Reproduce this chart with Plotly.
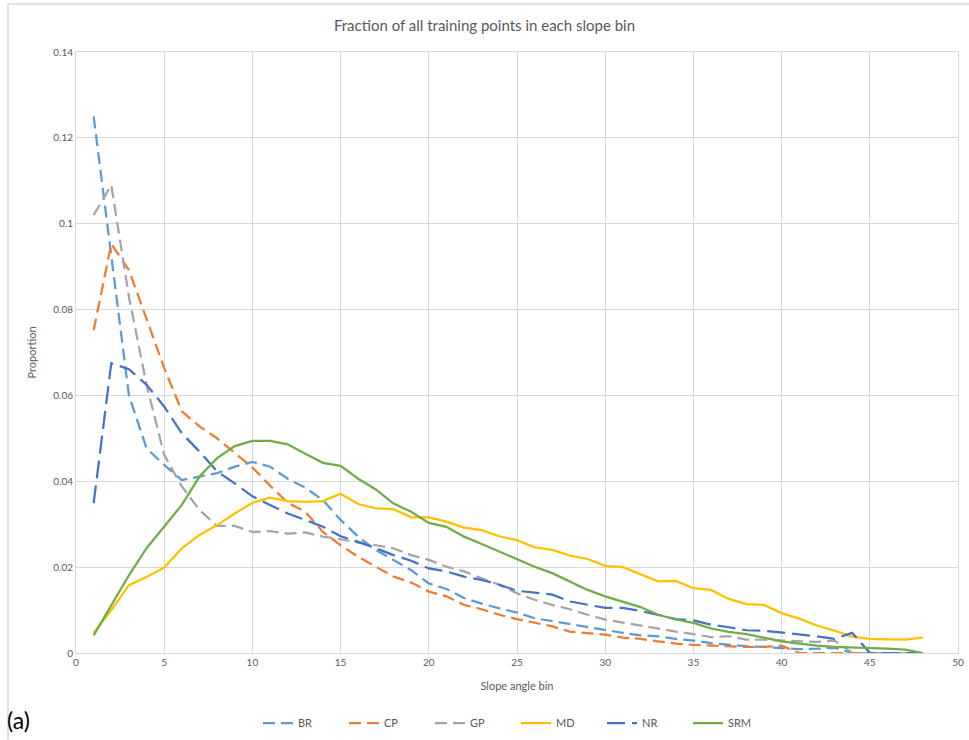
import plotly.graph_objects as go

# Slope angle bins (degrees)
slope_bin = list(range(1, 49))

# Proportion of training points per slope bin, per land-cover class
BR = [0.125, 0.093, 0.060, 0.0477, 0.0438, 0.0403, 0.0411, 0.0419, 0.0434, 0.0445,
      0.0434, 0.0406, 0.0385, 0.0356, 0.031, 0.0271, 0.024, 0.0217, 0.0193, 0.0162,
      0.0149, 0.0128, 0.0115, 0.0104, 0.0094, 0.0081, 0.0074, 0.0068, 0.006, 0.0054,
      0.0047, 0.0041, 0.0039, 0.0033, 0.0029, 0.0023, 0.0019, 0.0016, 0.0014, 0.0012,
      0.0009, 0.001, 0.0012, 0, 0, 0, 0, 0]
CP = [0.0752, 0.0953, 0.0892, 0.078, 0.0664, 0.0563, 0.0528, 0.05, 0.0465, 0.0432,
      0.039, 0.035, 0.0329, 0.0282, 0.0251, 0.0224, 0.0201, 0.0178, 0.0164, 0.0143,
      0.0132, 0.0112, 0.0102, 0.0089, 0.0079, 0.0071, 0.0062, 0.005, 0.0047, 0.0043,
      0.0036, 0.0033, 0.0027, 0.0022, 0.0019, 0.0017, 0.0016, 0.0014, 0.0014, 0.0017,
      0, 0, 0, 0, 0, 0, 0, 0]
GP = [0.102, 0.109, 0.083, 0.0625, 0.0461, 0.0388, 0.0333, 0.0296, 0.0296, 0.0282,
      0.0284, 0.0278, 0.0281, 0.0271, 0.0265, 0.0257, 0.0251, 0.0244, 0.0228, 0.0217,
      0.0201, 0.019, 0.0174, 0.0159, 0.0139, 0.0124, 0.0112, 0.0102, 0.0089, 0.0078,
      0.0071, 0.0064, 0.0056, 0.005, 0.0044, 0.0037, 0.0039, 0.0031, 0.0031, 0.0029,
      0.0027, 0.0026, 0.0029, 0, 0, 0, 0, 0]
MD = [0.0047, 0.010, 0.0158, 0.0177, 0.0199, 0.0244, 0.0275, 0.0298, 0.0325, 0.035,
      0.0362, 0.0354, 0.0352, 0.0354, 0.0371, 0.0347, 0.0337, 0.0335, 0.0316, 0.0316,
      0.0306, 0.0292, 0.0286, 0.0272, 0.0263, 0.0246, 0.024, 0.0227, 0.0219, 0.0203,
      0.02, 0.0184, 0.0167, 0.0168, 0.0151, 0.0147, 0.0126, 0.0114, 0.0112, 0.0093,
      0.008, 0.0064, 0.0052, 0.0038, 0.0033, 0.0032, 0.0031, 0.0036]
NR = [0.0349, 0.0675, 0.0661, 0.0625, 0.0574, 0.0512, 0.0469, 0.0423, 0.0395, 0.0365,
      0.0345, 0.0325, 0.031, 0.0294, 0.0272, 0.0259, 0.0244, 0.0228, 0.0215, 0.0197,
      0.019, 0.0178, 0.017, 0.0159, 0.0145, 0.0141, 0.0136, 0.012, 0.0112, 0.0105,
      0.0105, 0.0098, 0.0089, 0.0079, 0.0076, 0.0066, 0.006, 0.0053, 0.0052, 0.0048,
      0.0044, 0.0039, 0.0033, 0.0047, 0, 0, 0, 0]
SRM = [0.0041, 0.0111, 0.0181, 0.0244, 0.0294, 0.0345, 0.0411, 0.0454, 0.0482, 0.0494,
       0.0494, 0.0486, 0.0464, 0.0443, 0.0436, 0.0406, 0.0381, 0.0348, 0.0329, 0.0303,
       0.0294, 0.0271, 0.0254, 0.0236, 0.0218, 0.0201, 0.0186, 0.0167, 0.0147, 0.0132,
       0.0119, 0.0107, 0.0089, 0.0078, 0.007, 0.0057, 0.0049, 0.0044, 0.0036, 0.0027,
       0.0022, 0.0017, 0.0014, 0.0013, 0.0012, 0.001, 0.0008, 0]

series = [
    ("BR", BR, "#5B9BD5", "12px,6px"),
    ("CP", CP, "#ED7D31", "12px,6px"),
    ("GP", GP, "#A5A5A5", "12px,6px"),
    ("MD", MD, "#FFC000", "solid"),
    ("NR", NR, "#4472C4", "18px,7px"),
    ("SRM", SRM, "#70AD47", "solid"),
]

FONT = "Lato"
TXT = "#595959"
GRID = "#D9D9D9"
W, H = 969, 740

fig = go.Figure()
for name, vals, color, dash in series:
    fig.add_trace(go.Scatter(
        x=slope_bin, y=vals, name=name, mode="lines",
        line=dict(color=color, width=2.25, dash=dash),
    ))

fig.update_layout(
    width=W, height=H,
    margin=dict(l=76, r=11, t=52, b=87, autoexpand=False),
    paper_bgcolor="white", plot_bgcolor="white",
    font=dict(family=FONT, size=10, color=TXT),
    title=dict(text="Fraction of all training points in each slope bin",
               x=0.5, xref="container", xanchor="center",
               y=1 - 26 / H, yanchor="middle",
               font=dict(family=FONT, size=15, color=TXT)),
    xaxis=dict(range=[0, 50], dtick=5, tick0=0, showgrid=True, gridcolor=GRID,
               gridwidth=1, showline=True, linecolor=GRID, mirror=True,
               zeroline=False, ticks="", automargin=False,
               tickfont=dict(size=10, color=TXT),
               title=dict(text="Slope angle bin", standoff=15,
                          font=dict(size=11, color=TXT))),
    yaxis=dict(range=[0, 0.14], dtick=0.02, tick0=0, showgrid=True, gridcolor=GRID,
               gridwidth=1, showline=True, linecolor=GRID, mirror=True,
               zeroline=False, ticks="", automargin=False,
               tickfont=dict(size=10, color=TXT),
               title=dict(text="Proportion", standoff=14,
                          font=dict(size=11, color=TXT))),
    legend=dict(orientation="h", xref="container", yref="container",
                x=258 / W, xanchor="left",
                y=1 - 723 / H, yanchor="middle",
                entrywidth=41, font=dict(size=11, color=TXT),
                bgcolor="rgba(0,0,0,0)"),
    showlegend=True,
)

# Chart-area border
fig.add_shape(type="rect", xref="paper", yref="paper",
              x0=(8 - 76) / 882, x1=(985 - 76) / 882,
              y0=(653 - 760) / 601, y1=(653 - 4) / 601,
              line=dict(color=GRID, width=1.5), fillcolor="rgba(0,0,0,0)",
              layer="below")

# Panel label
fig.add_annotation(text="(a)", xref="paper", yref="paper",
                   x=(5 - 76) / 882, xanchor="left",
                   y=(653 - 720) / 601, yanchor="middle",
                   showarrow=False, font=dict(family=FONT, size=23, color="#000000"))

fig.write_html("out.html")
